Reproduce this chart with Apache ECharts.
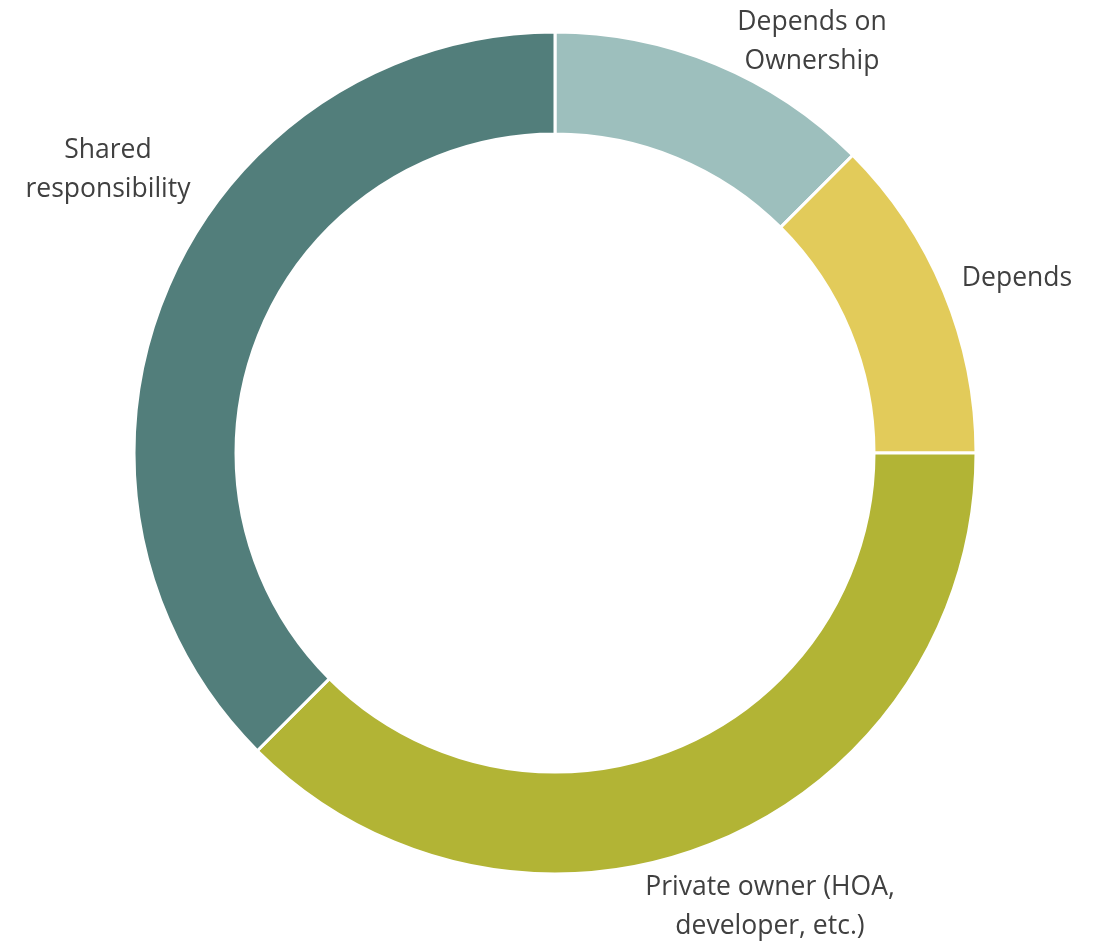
<!DOCTYPE html>
<html>
<head>
<meta charset="utf-8">
<script src="https://cdn.jsdelivr.net/npm/echarts@6/dist/echarts.min.js"></script>
<style>html,body{margin:0;padding:0;background:#fff;}#c{width:1104px;height:943px;}</style>
</head>
<body>
<div id="c"></div>
<script>
const categories = ["Depends on\nOwnership", "Depends", "Private owner (HOA,\ndeveloper, etc.)", "Shared\nresponsibility"];
const values = [1, 1, 3, 3];
const colors = ["#9DBFBD", "#E2CB5A", "#B2B435", "#527E7B"];
const labelPos = [[812, 42], [1017, 278], [770, 907], [108, 170]];

const chart = echarts.init(document.getElementById('c'), null, {renderer: 'canvas'});
chart.setOption({
  animation: false,
  series: [{
    type: 'pie',
    center: [555, 453],
    radius: [319, 421],
    startAngle: 90,
    clockwise: true,
    data: categories.map((n, i) => ({name: n, value: values[i], itemStyle: {color: colors[i]}})),
    itemStyle: {borderColor: '#fff', borderWidth: 3},
    label: {
      show: true,
      position: 'inside',
      formatter: '{b}',
      fontFamily: 'Open Sans',
      fontSize: 26.5,
      lineHeight: 39,
      color: '#404040',
      align: 'center',
      overflow: 'none'
    },
    labelLine: {show: false},
    labelLayout: function (p) {
      const pos = labelPos[p.dataIndex];
      return {x: pos[0], y: pos[1], align: 'center', verticalAlign: 'middle', hideOverlap: false};
    }
  }]
});
</script>
</body>
</html>
